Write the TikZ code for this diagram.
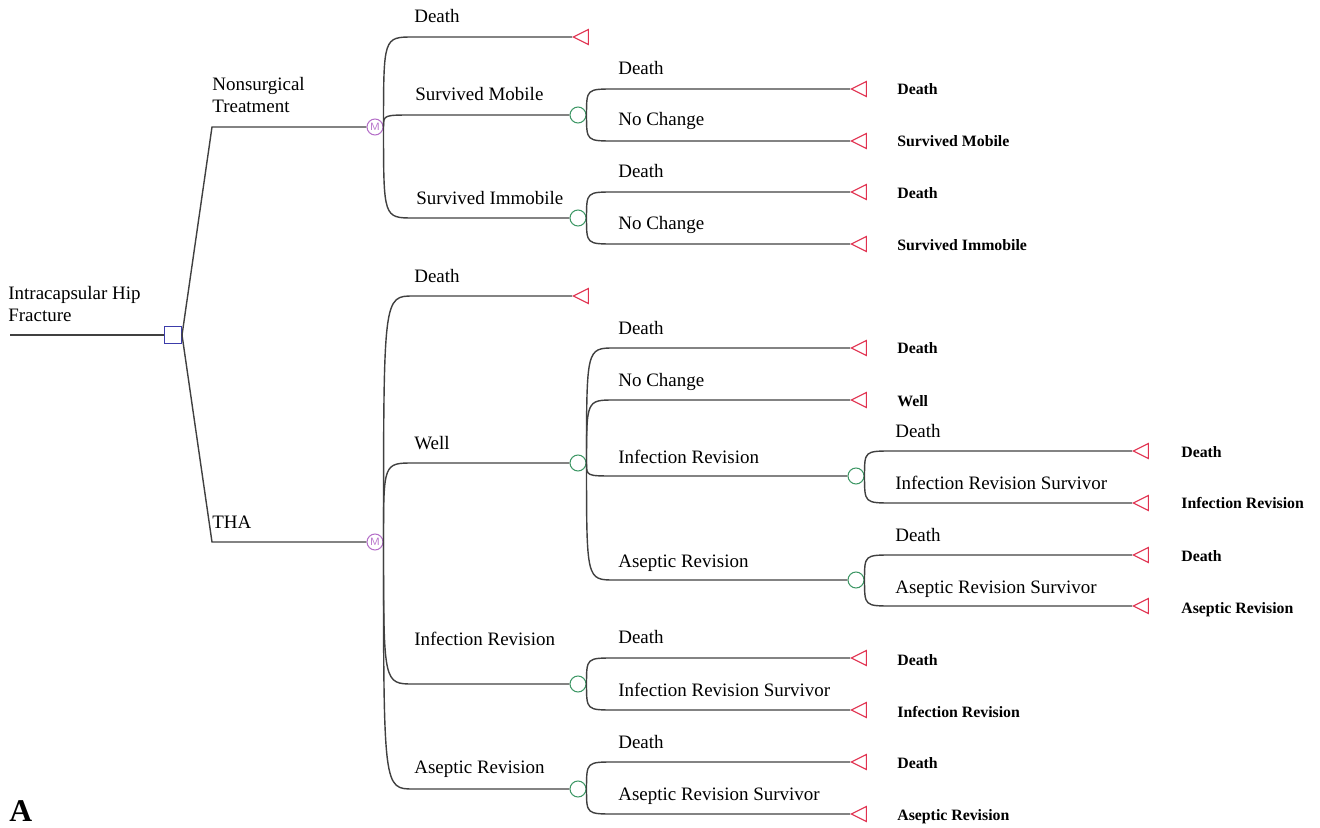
\documentclass[tikz,border=0pt]{standalone}
\usepackage{fontspec}
\setmainfont{Liberation Serif}
\usetikzlibrary{shapes.geometric,calc}

\definecolor{decblue}{RGB}{60,60,170}
\definecolor{mkpurple}{RGB}{180,110,200}
\definecolor{chgreen}{RGB}{60,150,100}
\definecolor{termred}{RGB}{225,50,80}

\tikzset{
  branch/.style={draw=black!75, line width=0.8pt},
  curved/.style={to path={.. controls (\tikztostart |- \tikztotarget)
      .. ($(\tikztostart |- \tikztotarget)+(#1,0)$) -- (\tikztotarget)}},
  decision/.style={rectangle, draw=decblue, line width=0.6pt, minimum size=0.34cm, inner sep=0pt},
  markov/.style={circle, draw=mkpurple, line width=0.6pt, minimum size=0.32cm, inner sep=0pt,
      text=mkpurple, font=\sffamily\fontsize{6}{6}\selectfont},
  chance/.style={circle, draw=chgreen, line width=0.6pt, minimum size=0.32cm, inner sep=0pt},
  terminal/.style={isosceles triangle, isosceles triangle stretches, shape border rotate=180,
      draw=termred, line width=0.6pt, minimum width=0.3cm, minimum height=0.3cm, inner sep=0pt, anchor=apex},
  lbl/.style={anchor=base west, inner sep=0pt, font=\fontsize{10.8}{12}\selectfont},
  endlbl/.style={anchor=base west, inner sep=0pt, font=\fontsize{9}{10}\selectfont\bfseries}
}

\begin{document}
\begin{tikzpicture}[x=0.02cm, y=-0.02cm]
    \useasboundingbox (0,0) rectangle (1320,828);

    % Root and decision
    \coordinate (root) at (10,335);
    \node[decision] (dec) at (173,335) {};
    \coordinate (kNS) at (212,127);
    \coordinate (kTHA) at (212,542);

    % Markov nodes
    \node[markov] (mkNS) at (375,127) {M};
    \node[markov] (mkTHA) at (375,542) {M};

    % Chance nodes
    \node[chance] (cSM) at (578,115) {};
    \node[chance] (cSI) at (578,218) {};
    \node[chance] (cWell) at (578,463) {};
    \node[chance] (cInf) at (578,684) {};
    \node[chance] (cAs) at (578,789) {};
    \node[chance] (cWInf) at (856,476) {};
    \node[chance] (cWAs) at (856,580) {};

    % Terminal nodes
    \node[terminal] (tNSD) at (572,37) {};
    \node[terminal] (tSMD) at (850,89) {};
    \node[terminal] (tSMN) at (850,141) {};
    \node[terminal] (tSID) at (850,192) {};
    \node[terminal] (tSIN) at (850,244) {};
    \node[terminal] (tTD) at (572,296) {};
    \node[terminal] (tWD) at (850,348) {};
    \node[terminal] (tWN) at (850,400) {};
    \node[terminal] (tWID) at (1132,451) {};
    \node[terminal] (tWIS) at (1132,503) {};
    \node[terminal] (tWAD) at (1132,555) {};
    \node[terminal] (tWAS) at (1132,606) {};
    \node[terminal] (tID) at (850,658) {};
    \node[terminal] (tIS) at (850,710) {};
    \node[terminal] (tAD) at (850,762) {};
    \node[terminal] (tAS) at (850,814) {};

    % Branches
    \draw[branch] (root) -- (dec);
    \draw[branch] (dec.east) -- (kNS) -- (mkNS);
    \draw[branch] (dec.east) -- (kTHA) -- (mkTHA);

    \draw[branch] (mkNS.east) to[curved=30] (tNSD);
    \draw[branch] (mkNS.east) to[curved=30] (cSM);
    \draw[branch] (mkNS.east) to[curved=30] (cSI);
    \draw[branch] (cSM.east) to[curved=28] (tSMD);
    \draw[branch] (cSM.east) to[curved=28] (tSMN);
    \draw[branch] (cSI.east) to[curved=28] (tSID);
    \draw[branch] (cSI.east) to[curved=28] (tSIN);

    \draw[branch] (mkTHA.east) to[curved=30] (tTD);
    \draw[branch] (mkTHA.east) to[curved=30] (cWell);
    \draw[branch] (mkTHA.east) to[curved=30] (cInf);
    \draw[branch] (mkTHA.east) to[curved=30] (cAs);
    \draw[branch] (cWell.east) to[curved=28] (tWD);
    \draw[branch] (cWell.east) to[curved=28] (tWN);
    \draw[branch] (cWell.east) to[curved=28] (cWInf);
    \draw[branch] (cWell.east) to[curved=28] (cWAs);
    \draw[branch] (cWInf.east) to[curved=28] (tWID);
    \draw[branch] (cWInf.east) to[curved=28] (tWIS);
    \draw[branch] (cWAs.east) to[curved=28] (tWAD);
    \draw[branch] (cWAs.east) to[curved=28] (tWAS);
    \draw[branch] (cInf.east) to[curved=28] (tID);
    \draw[branch] (cInf.east) to[curved=28] (tIS);
    \draw[branch] (cAs.east) to[curved=28] (tAD);
    \draw[branch] (cAs.east) to[curved=28] (tAS);

    % Branch labels
    \node[lbl] (lRoot) at (8,299) {Intracapsular Hip};
    \node[lbl] (lRoot2) at (8,321) {Fracture};
    \node[lbl] (lNS) at (212,91) {Nonsurgical};
    \node[lbl] (lNS2) at (212,113) {Treatment};
    \node[lbl] (lTHA) at (212,528) {THA};

    \node[lbl] (lNSD) at (414,23) {Death};
    \node[lbl] (lSM) at (415,101) {Survived Mobile};
    \node[lbl] (lSI) at (416,205) {Survived Immobile};
    \node[lbl] (lSMD) at (618,75) {Death};
    \node[lbl] (lSMN) at (618,126) {No Change};
    \node[lbl] (lSID) at (618,178) {Death};
    \node[lbl] (lSIN) at (618,230) {No Change};

    \node[lbl] (lTD) at (414,282) {Death};
    \node[lbl] (lWell) at (414,449) {Well};
    \node[lbl] (lInf) at (414,645) {Infection Revision};
    \node[lbl] (lAs) at (414,773) {Aseptic Revision};
    \node[lbl] (lWD) at (618,335) {Death};
    \node[lbl] (lWN) at (618,386) {No Change};
    \node[lbl] (lWI) at (618,463) {Infection Revision};
    \node[lbl] (lWA) at (618,567) {Aseptic Revision};
    \node[lbl] (lWID) at (895,437) {Death};
    \node[lbl] (lWIS) at (895,489) {Infection Revision Survivor};
    \node[lbl] (lWAD) at (895,541) {Death};
    \node[lbl] (lWAS) at (895,593) {Aseptic Revision Survivor};
    \node[lbl] (lID) at (618,643) {Death};
    \node[lbl] (lIS) at (618,696) {Infection Revision Survivor};
    \node[lbl] (lAD) at (618,748) {Death};
    \node[lbl] (lAS) at (618,800) {Aseptic Revision Survivor};

    % Terminal labels
    \node[endlbl] (eSMD) at (897,95) {Death};
    \node[endlbl] (eSMN) at (897,147) {Survived Mobile};
    \node[endlbl] (eSID) at (897,199) {Death};
    \node[endlbl] (eSIN) at (897,251) {Survived Immobile};
    \node[endlbl] (eWD) at (897,354) {Death};
    \node[endlbl] (eWN) at (897,406) {Well};
    \node[endlbl] (eWID) at (1181,457) {Death};
    \node[endlbl] (eWIS) at (1181,508) {Infection Revision};
    \node[endlbl] (eWAD) at (1181,561) {Death};
    \node[endlbl] (eWAS) at (1181,613) {Aseptic Revision};
    \node[endlbl] (eID) at (897,665) {Death};
    \node[endlbl] (eIS) at (897,717) {Infection Revision};
    \node[endlbl] (eAD) at (897,768) {Death};
    \node[endlbl] (eAS) at (897,820) {Aseptic Revision};

    % Panel letter
    \node[anchor=base west, inner sep=0pt, font=\fontsize{18}{19}\selectfont\bfseries] (panel) at (9,821) {A};
\end{tikzpicture}
\end{document}
